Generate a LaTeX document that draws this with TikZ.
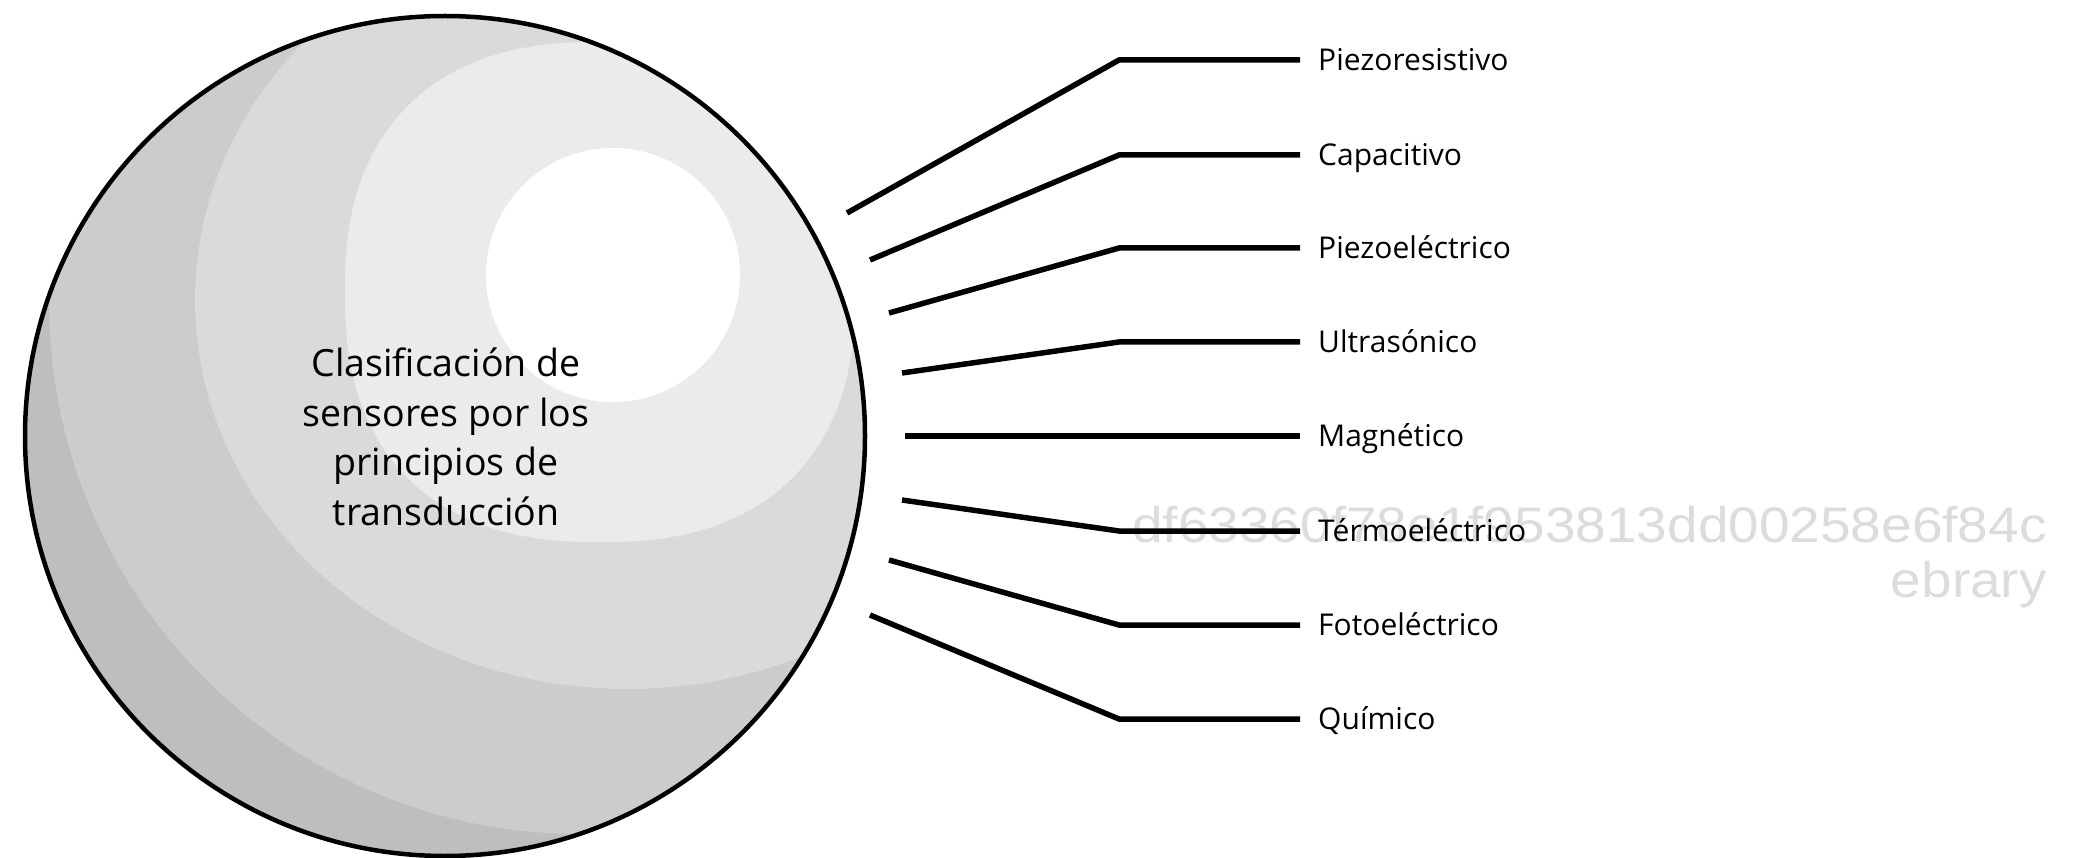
\documentclass[tikz,border=0pt]{standalone}
\usepackage{fontspec}
\setmainfont{Open Sans}
\newfontfamily\wmfont{Liberation Sans}
\definecolor{shadeA}{HTML}{BEBEBE}
\definecolor{shadeB}{HTML}{CCCCCC}
\definecolor{shadeC}{HTML}{DADADA}
\definecolor{shadeD}{HTML}{EBEBEB}
\definecolor{wmgray}{HTML}{DCDCDC}
\begin{document}
\begin{tikzpicture}[x=1pt,y=-1pt,
  lab/.style={font=\fontsize{30}{36}\selectfont, text height=21.4pt, text depth=0pt, inner sep=0pt, anchor=west},
  conn/.style={line width=5.5pt, black},
  connthick/.style={line width=6.5pt, black},
  wm/.style={font=\wmfont\fontsize{50}{60}\selectfont, text=wmgray, inner sep=0pt, anchor=base east},
  titletext/.style={font=\fontsize{37.5}{49.5}\selectfont, align=center, inner sep=0pt},
  ballnode/.style={draw, circle, line width=4.5pt, minimum size=840pt, inner sep=0pt}]
\fill[white] (0,0) rectangle (2081,858);
\useasboundingbox (0,0) rectangle (2081,858);

% watermark
\node[wm] (wm1) at (2047,542) {\scalebox{1.1}[1]{df63360f78e1f953813dd00258e6f84c}};
\node[wm] (wm2) at (2047,597) {\scalebox{1.1}[1]{ebrary}};

% sphere shading
\begin{scope}
  \clip (445,436) circle [radius=420pt];
  \fill[shadeA] (445,436) circle [radius=420pt];
  \fill[shadeB] (581,302) circle [radius=532pt];
  \fill[shadeC] (628,300) ellipse [x radius=433pt, y radius=389pt];
  \fill[shadeD] plot[domain=1:361, samples=145, variable=\t]
     ({600+255*cos(\t)*pow(abs(cos(\t)),-0.1667)}, {292+250*sin(\t)*pow(abs(sin(\t)),-0.1667)}) -- cycle;
  \fill[white] (613,275) circle [radius=127pt];
\end{scope}
\node[ballnode] (ball) at (445,436) {};
\node[titletext] (title) at (446,437) {Clasificación de\\sensores por los\\principios de\\transducción};

% labels
\node[lab] (p1) at (1318,60)  {Piezoresistivo};
\node[lab] (p2) at (1318,155) {Capacitivo};
\node[lab] (p3) at (1318,248) {Piezoeléctrico};
\node[lab] (p4) at (1318,342) {Ultrasónico};
\node[lab] (p5) at (1318,436) {Magnético};
\node[lab] (p6) at (1318,531) {Térmoeléctrico};
\node[lab] (p7) at (1318,625) {Fotoeléctrico};
\node[lab] (p8) at (1318,719) {Químico};

% connector start and bend points
\coordinate (s1) at (847,213); \coordinate (b1) at (1119,60);
\coordinate (s2) at (870,260); \coordinate (b2) at (1119,155);
\coordinate (s3) at (889,313); \coordinate (b3) at (1119,248);
\coordinate (s4) at (902,373); \coordinate (b4) at (1119,342);
\coordinate (s5) at (905,436);
\coordinate (s6) at (902,500); \coordinate (b6) at (1119,531);
\coordinate (s7) at (889,560); \coordinate (b7) at (1119,625);
\coordinate (s8) at (870,615); \coordinate (b8) at (1119,719);

\draw[conn] (s1) -- (b1) -- ([xshift=-18pt]p1.west);
\draw[conn] (s2) -- (b2) -- ([xshift=-18pt]p2.west);
\draw[conn] (s3) -- (b3) -- ([xshift=-18pt]p3.west);
\draw[conn] (s4) -- (b4) -- ([xshift=-18pt]p4.west);
\draw[connthick] (s5) -- ([xshift=-18pt]p5.west);
\draw[conn] (s6) -- (b6) -- ([xshift=-18pt]p6.west);
\draw[conn] (s7) -- (b7) -- ([xshift=-18pt]p7.west);
\draw[conn] (s8) -- (b8) -- ([xshift=-18pt]p8.west);
\end{tikzpicture}
\end{document}
